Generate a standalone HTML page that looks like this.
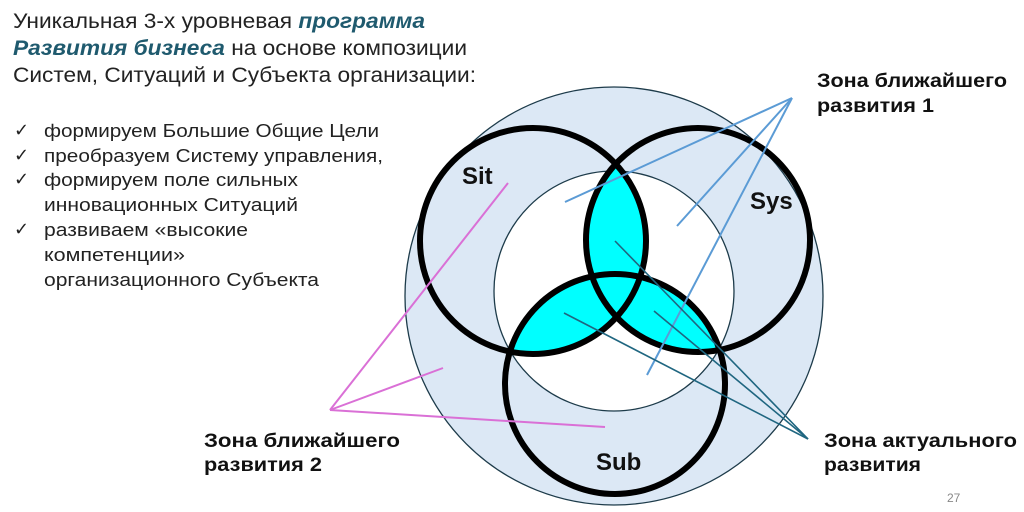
<!DOCTYPE html>
<html><head><meta charset="utf-8"><style>
html,body{margin:0;padding:0;background:#fff;}
svg{display:block;}
text{font-family:"Liberation Sans","DejaVu Sans",sans-serif;}
</style></head><body>
<svg width="1024" height="512" viewBox="0 0 1024 512" xmlns="http://www.w3.org/2000/svg">
<defs>
<clipPath id="cSit"><circle cx="533" cy="241" r="113"/></clipPath>
<clipPath id="cSys"><circle cx="698" cy="240" r="112"/></clipPath>
<clipPath id="cSub"><circle cx="615" cy="384" r="110"/></clipPath>
</defs>
<!-- header -->
<g font-size="21" fill="#222">
<text x="13" y="28" textLength="412" lengthAdjust="spacingAndGlyphs">Уникальная 3-х уровневая <tspan font-weight="bold" font-style="italic" fill="#1f5a6e">программа</tspan></text>
<text x="13" y="55" textLength="454" lengthAdjust="spacingAndGlyphs"><tspan font-weight="bold" font-style="italic" fill="#1f5a6e">Развития бизнеса</tspan> на основе композиции</text>
<text x="13" y="82" textLength="463" lengthAdjust="spacingAndGlyphs">Систем, Ситуаций и Субъекта организации:</text>
</g>
<g font-size="18" fill="#222">
<text x="14" y="136">✓</text>
<text x="14" y="161">✓</text>
<text x="14" y="185">✓</text>
<text x="14" y="235">✓</text>
<text x="44" y="137" textLength="335" lengthAdjust="spacingAndGlyphs">формируем Большие Общие Цели</text>
<text x="44" y="162" textLength="339" lengthAdjust="spacingAndGlyphs">преобразуем Систему управления,</text>
<text x="44" y="186" textLength="254" lengthAdjust="spacingAndGlyphs">формируем поле сильных</text>
<text x="44" y="211" textLength="254" lengthAdjust="spacingAndGlyphs">инновационных Ситуаций</text>
<text x="44" y="236" textLength="204" lengthAdjust="spacingAndGlyphs">развиваем «высокие</text>
<text x="44" y="261" textLength="141" lengthAdjust="spacingAndGlyphs">компетенции»</text>
<text x="44" y="286" textLength="275" lengthAdjust="spacingAndGlyphs">организационного Субъекта</text>
</g>
<!-- diagram -->
<circle cx="614" cy="296" r="209" fill="#dce8f5" stroke="#1d3b4a" stroke-width="1.3"/>
<circle cx="614" cy="291" r="120" fill="#fff" stroke="#1d3b4a" stroke-width="1.3"/>
<g fill="#00ffff">
<g clip-path="url(#cSit)"><circle cx="698" cy="240" r="112"/></g>
<g clip-path="url(#cSit)"><circle cx="615" cy="384" r="110"/></g>
<g clip-path="url(#cSys)"><circle cx="615" cy="384" r="110"/></g>
</g>
<g fill="none" stroke="#000" stroke-width="6">
<circle cx="533" cy="241" r="113"/>
<circle cx="698" cy="240" r="112"/>
<circle cx="615" cy="384" r="110"/>
</g>
<!-- leader lines -->
<g stroke="#5b9bd5" stroke-width="2">
<line x1="792" y1="98" x2="565" y2="202"/>
<line x1="792" y1="98" x2="677" y2="226"/>
<line x1="792" y1="98" x2="647" y2="375"/>
</g>
<g stroke="#1f6680" stroke-width="1.6">
<line x1="808" y1="439" x2="615" y2="241"/>
<line x1="808" y1="439" x2="564" y2="313"/>
<line x1="808" y1="439" x2="654" y2="311"/>
</g>
<g stroke="#da70d6" stroke-width="2">
<line x1="330" y1="410" x2="508" y2="183"/>
<line x1="330" y1="410" x2="443" y2="368"/>
<line x1="330" y1="410" x2="605" y2="427"/>
</g>
<g font-size="24" font-weight="bold" fill="#111">
<text x="462" y="184">Sit</text>
<text x="750" y="209">Sys</text>
<text x="596" y="470">Sub</text>
</g>
<g font-size="19" font-weight="bold" fill="#111">
<text x="817" y="87" textLength="190" lengthAdjust="spacingAndGlyphs">Зона ближайшего</text>
<text x="817" y="112" textLength="117" lengthAdjust="spacingAndGlyphs">развития 1</text>
<text x="824" y="447" textLength="193" lengthAdjust="spacingAndGlyphs">Зона актуального</text>
<text x="824" y="471" textLength="97" lengthAdjust="spacingAndGlyphs">развития</text>
<text x="204" y="447" textLength="196" lengthAdjust="spacingAndGlyphs">Зона ближайшего</text>
<text x="204" y="471" textLength="118" lengthAdjust="spacingAndGlyphs">развития 2</text>
</g>
<text x="947" y="502" font-size="12" fill="#888">27</text>
</svg>
</body></html>
